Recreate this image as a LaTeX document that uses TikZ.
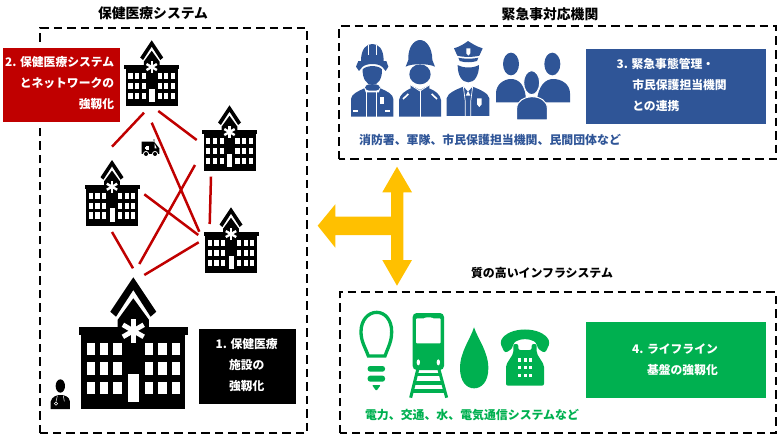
\documentclass[tikz,border=0pt]{standalone}
\usepackage{fontspec}
\setmainfont{Noto Sans CJK JP}
\definecolor{boxred}{HTML}{C00000}
\definecolor{boxblue}{HTML}{2F5597}
\definecolor{boxgreen}{HTML}{00B050}
\definecolor{amber}{HTML}{FFC000}
\tikzset{
  dashbox/.style={draw=black,line width=2pt,dash pattern=on 8.5pt off 5pt},
  link/.style={draw=boxred,line width=2.5pt},
  fillbox/.style={inner sep=0pt,text=white},
  boxtext/.style={inner sep=0pt,text=white,font=\fontsize{11.8}{21}\selectfont\bfseries},
  caption/.style={inner sep=0pt,font=\fontsize{11.9}{14}\selectfont\bfseries},
  heading/.style={inner sep=0pt,text=black,font=\fontsize{13.8}{16}\selectfont\bfseries},
  hospital/.pic={
    \fill (-23,-97.6) -- (0,-132) -- (23,-97.6) -- (17.3,-92.6) -- (0,-119.3) -- (-17.3,-92.6) -- cycle;
    \fill (0,-111) -- (15.6,-89.5) -- (15.6,-82) -- (-15.6,-82) -- (-15.6,-89.5) -- cycle;
    \fill (-54.6,-82) rectangle (55,-74);
    \fill (-52,-75) rectangle (52,0);
    \foreach \xa in {-46.7,-33.3,-20,11.7,25,38.5}
      \foreach \ya in {-66.7,-47,-27.3}
        \fill[white] (\xa,\ya) rectangle ++(8.3,12.4);
    \fill[white] (-5,-35.3) rectangle (5.7,-7.7);
    \foreach \a in {0,60,120}
      \fill[white,shift={(0,-78.5)},rotate=\a] (-2.4,-12) rectangle (2.4,12);
  }
}
\begin{document}
\begin{tikzpicture}[x=1pt,y=-1pt]
  \useasboundingbox (0,0) rectangle (780,439);
  \draw[dashbox] (40.3,433.3) -- (40.3,28.3) -- (307.3,28.3) -- (307.3,433.3) -- cycle;
  \draw[dashbox] (339.3,159.3) -- (339.3,26) -- (776,26) -- (776,159.3) -- cycle;
  \draw[dashbox] (340,433.3) -- (340,292.3) -- (776,292.3) -- (776,433.3) -- cycle;

  \node[heading] (healthTitle) at (153,13) {保健医療システム};
  \node[heading] (emergencyTitle) at (550,14) {緊急事対応機関};
  \node[heading,font=\fontsize{11.9}{14}\selectfont\bfseries] (infraTitle) at (542,272.7) {質の高いインフラシステム};

  \coordinate (topA) at (144,112.7);
  \coordinate (topB) at (158.3,111);
  \coordinate (topC) at (151.7,122.7);
  \coordinate (rightA) at (196.7,140);
  \coordinate (rightB) at (195,165);
  \coordinate (rightC) at (211,176.7);
  \coordinate (leftA) at (112,146.7);
  \coordinate (leftB) at (144.3,194.3);
  \coordinate (leftC) at (112,232);
  \coordinate (lowA) at (199.3,231.7);
  \coordinate (lowB) at (209.7,224);
  \coordinate (lowC) at (198.3,235);
  \coordinate (lowD) at (198.7,242.3);
  \coordinate (mainA) at (139.3,264);
  \coordinate (mainB) at (133,268.3);
  \coordinate (mainC) at (144.3,275);
  \draw[link] (topA) -- (leftA);
  \draw[link] (topB) -- (rightA);
  \draw[link] (topC) -- (lowA);
  \draw[link] (rightB) -- (mainA);
  \draw[link] (rightC) -- (lowB);
  \draw[link] (leftB) -- (lowC);
  \draw[link] (leftC) -- (mainB);
  \draw[link] (lowD) -- (mainC);

  \pic[scale=0.5] (hospitalTop) at (151.7,106.3) {hospital};
  \pic[scale=0.5] (hospitalRight) at (229.5,171.3) {hospital};
  \pic[scale=0.5] (hospitalLeft) at (112,226) {hospital};
  \pic[scale=0.5] (hospitalLow) at (231,273.3) {hospital};
  \pic (hospitalMain) at (133.3,409.3) {hospital};

  \begin{scope}[scale=1/3]
    \fill (425,425) -- (462,425) -- (478,445) -- (478,462) -- (425,462) -- cycle;
    \fill[gray!60] (458,416) rectangle (466,425);
    \fill[white] (464,431) -- (470,445) -- (464,445) -- cycle;
    \fill[white] (438,438) rectangle (446,450);
    \fill[white] (436,441) rectangle (448,447);
    \fill[white] (438,462) circle (9);
    \fill[white] (465,462) circle (9);
    \fill (438,462) circle (6);
    \fill (465,462) circle (6);
  \end{scope}

  \begin{scope}[shift={(30,260)},scale=1/3]
    \fill (91,378) ellipse (14 and 20);
    \fill (62,447) -- (62,425) .. controls (65,410) and (80,405) .. (91,405) .. controls (105,405) and (118,410) .. (120,425) -- (120,447) -- cycle;
    \draw[white,line width=0.5pt] (82,408) -- (78,425) (100,408) -- (103,424);
    \draw[white,line width=0.5pt] (78,431) circle (5);
  \end{scope}

  \node[fill=boxred,draw=white,minimum width=118pt,minimum height=75pt,fillbox] (networkBox) at (60.7,84.7) {};
  \node[boxtext,align=right] (networkText) at (59.7,83) {2. 保健医療システム\\とネットワークの\\強靱化};
  \node[fill=black,minimum width=97.3pt,minimum height=75pt,fillbox] (facilityBox) at (247.3,366.8) {};
  \node[boxtext,align=center] (facilityText) at (246.7,365.5) {1. 保健医療\\施設の\\強靱化};

  \fill[amber] (397,166.7) -- (412,192.3) -- (403.3,192.3) -- (403.3,260) -- (412,260) -- (397,285.7) -- (382.3,260) -- (391,260) -- (391,235) -- (335.3,235) -- (335.3,247.7) -- (317.7,225.7) -- (335.3,204.3) -- (335.3,216.7) -- (391,216.7) -- (391,192.3) -- (382.3,192.3) -- cycle;

  \begin{scope}[shift={(345,35)},scale=1/3,boxblue]
    \fill (48,78) .. controls (48,40) and (65,27) .. (82,27) .. controls (100,27) and (116,40) .. (116,78) -- cycle;
    \fill (40,78) -- (124,78) -- (130,95) -- (122,108) -- (112,96) .. controls (100,84) and (64,84) .. (52,96) -- (42,108) -- (33,95) -- cycle;
    \draw[white,line width=0.6pt] (70,30) -- (70,60) (94,30) -- (94,60);
    \fill (53,103) .. controls (65,90) and (100,90) .. (111,103) .. controls (112,130) and (100,150) .. (82,150) .. controls (64,150) and (52,130) .. (53,103) -- cycle;
    \fill[rounded corners=4pt] (60,148) rectangle (105,167);
    \fill (18,245) -- (18,192) .. controls (18,178) and (40,168) .. (58,160) -- (62,172) -- (102,172) -- (106,160) .. controls (125,168) and (145,178) .. (145,192) -- (145,245) -- cycle;
    \draw[white,line width=0.8pt] (65,172) -- (65,245) (95,172) -- (95,245);
    \fill[white] (25,225) rectangle (40,232);
    \fill[white] (120,225) rectangle (135,232);
    \fill[white] (105,185) rectangle (116,208);

    \fill (182,95) -- (190,75) .. controls (188,40) and (205,15) .. (225,15) .. controls (245,15) and (262,40) .. (262,75) -- (270,95) .. controls (250,85) and (200,85) .. (182,95) -- cycle;
    \fill (225,118) ellipse (32 and 30);
    \fill (162,245) -- (162,195) .. controls (165,178) and (180,168) .. (197,160) -- (225,172) -- (253,160) .. controls (272,168) and (285,178) .. (288,195) -- (288,245) -- cycle;
    \fill (197,150) -- (225,165) -- (253,150) -- (253,160) -- (225,180) -- (197,160) -- cycle;
    \draw[white,line width=0.8pt] (197,150) -- (225,168) -- (253,150);
    \draw[white,line width=0.7pt] (225,168) -- (225,245);
    \draw[white,line width=1.6pt] (174,192) -- (190,177) (260,177) -- (276,192);

    \fill (327,40) .. controls (345,35) and (360,25) .. (369,18) .. controls (380,25) and (395,35) .. (413,40) -- (403,62) .. controls (385,67) and (355,67) .. (337,62) -- cycle;
    \fill (340,68) .. controls (355,72) and (385,72) .. (400,68) -- (396,78) .. controls (380,83) and (358,83) .. (344,78) -- cycle;
    \fill[white] (364,40) -- (376,40) -- (376,55) -- (370,62) -- (364,55) -- cycle;
    \fill (338,90) .. controls (355,100) and (385,100) .. (402,90) .. controls (402,120) and (390,142) .. (370,142) .. controls (350,142) and (338,120) .. (338,90) -- cycle;
    \fill (305,243) -- (305,190) .. controls (308,175) and (330,165) .. (355,155) -- (369,170) -- (383,155) .. controls (408,165) and (430,175) .. (433,190) -- (433,243) -- cycle;
    \draw[white,line width=0.7pt] (355,155) -- (361,200) -- (361,243) (383,155) -- (377,200) -- (377,243);
    \fill[white] (369,168) -- (376,182) -- (362,182) -- cycle;
    \fill[white] (396,190) -- (410,190) -- (410,208) -- (403,216) -- (396,208) -- cycle;
  \end{scope}

  \begin{scope}[shift={(490,45)},scale=1/3,boxblue]
    \fill (63,57) ellipse (24 and 34);
    \fill (187,57) ellipse (24 and 34);
    \fill (18,172) -- (18,145) .. controls (18,118) and (42,102) .. (63,102) .. controls (85,102) and (108,118) .. (108,172) -- cycle;
    \fill (140,172) .. controls (145,118) and (168,102) .. (190,102) .. controls (215,102) and (240,118) .. (240,145) -- (240,172) -- cycle;
    \draw[white,fill=boxblue,line width=1pt] (125,113) ellipse (24 and 36);
    \draw[white,fill=boxblue,line width=1pt] (80,225) -- (80,190) .. controls (80,168) and (105,155) .. (125,155) .. controls (150,155) and (172,168) .. (172,190) -- (172,225) -- cycle;
  \end{scope}

  \node[fill=boxblue,minimum width=179.7pt,minimum height=74.4pt,fillbox] (agencyBox) at (675.8,86.5) {};
  \node[boxtext,align=left] (agencyText) at (671.7,85) {3. 緊急事態管理・\\\hspace*{15.6pt}市民保護担当機関\\\hspace*{15.6pt}との連携};
  \node[caption,text=boxblue] (agencyCaption) at (490,140) {消防署、軍隊、市民保護担当機関、民間団体など};

  \begin{scope}[shift={(350,305)},scale=1/3,boxgreen]
    \draw[line width=3.3pt] (55,153) .. controls (45,125) and (33,110) .. (33,80) .. controls (33,45) and (55,22) .. (80,22) .. controls (105,22) and (125,45) .. (125,80) .. controls (125,110) and (115,125) .. (105,153) -- cycle;
    \fill[rounded corners=2.5pt] (53,183) rectangle (105,200);
    \fill[rounded corners=2.5pt] (53,212) rectangle (105,230);
    \fill[rounded corners=1pt] (66,240) -- (92,240) -- (79,258) -- cycle;

    \fill[rounded corners=4pt] (188,24) rectangle (282,195);
    \fill[white,rounded corners=1pt] (198,40) -- (225,40) -- (227,37) -- (245,37) -- (247,40) -- (272,40) -- (272,115) -- (198,115) -- cycle;
    \fill[white] (205,172) ellipse (5 and 9);
    \fill[white] (265,172) ellipse (5 and 9);
    \draw[line width=3pt] (204,190) -- (182,278) (266,190) -- (290,278);
    \draw[line width=3.2pt] (198,209) -- (272,209) (192,234) -- (278,234) (186,258) -- (284,258);
  \end{scope}

  \begin{scope}[shift={(450,320)},scale=1/3,boxgreen]
    \fill (72,22) .. controls (60,60) and (30,95) .. (30,145) .. controls (30,185) and (50,205) .. (72,205) .. controls (95,205) and (115,185) .. (115,145) .. controls (115,95) and (85,60) .. (72,22) -- cycle;

    \fill[rounded corners=3pt] (150,68) .. controls (175,18) and (275,18) .. (300,68) -- (285,100) -- (262,85) -- (260,68) .. controls (235,55) and (215,55) .. (190,68) -- (188,85) -- (165,100) -- cycle;
    \fill[rounded corners=2pt] (168,197) -- (168,135) -- (190,100) -- (190,72) -- (205,72) -- (205,90) -- (245,90) -- (245,72) -- (260,72) -- (260,100) -- (282,135) -- (282,197) -- cycle;
    \foreach \xa in {208,225,241}
      \foreach \ya in {120,143,167}
        \fill[white] (\xa-4.5,\ya-5) rectangle (\xa+4.5,\ya+5);
  \end{scope}

  \node[fill=boxgreen,minimum width=179.7pt,minimum height=75.4pt,fillbox] (lifelineBox) at (675.8,360) {};
  \node[boxtext,align=right] (lifelineText) at (675,360) {4. ライフライン\\基盤の強靱化};
  \node[caption,text=boxgreen] (lifelineCaption) at (472,415) {電力、交通、水、電気通信システムなど};
\end{tikzpicture}
\end{document}
